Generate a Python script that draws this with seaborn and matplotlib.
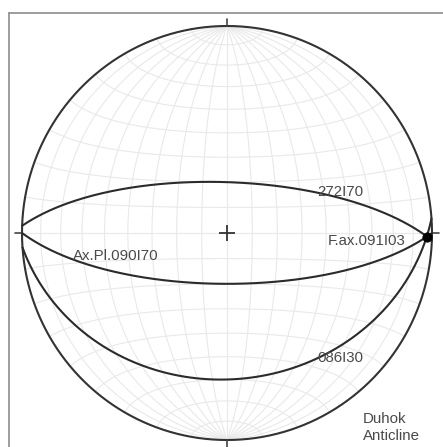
import numpy as np
import pandas as pd
import matplotlib
matplotlib.use("Agg")
import matplotlib.pyplot as plt
import seaborn as sns

# planes (right-hand rule strike / dip)
plane_strikes = [272, 90, 86]
plane_dips = [70, 70, 30]
plane_labels = ["272I70", "Ax.Pl.090I70", "086I30"]

# fold axis (trend / plunge)
axis_trends = [91]
axis_plunges = [3]
axis_labels = ["F.ax.091I03"]

site_lines = ["Duhok", "Anticline"]
net_step = 10  # grid interval, degrees


def project(trend, plunge):
    # lower hemisphere, equal area (Schmidt net)
    r = np.sqrt(2) * np.sin(np.radians(90 - plunge) / 2)
    return r * np.sin(np.radians(trend)), r * np.cos(np.radians(trend))


def vec_to_line(e, n, d):
    plunge = np.degrees(np.arcsin(np.clip(d, -1, 1)))
    trend = np.degrees(np.arctan2(e, n)) % 360
    return trend, plunge


def great_circle(strike, dip, npts=181):
    a = np.radians(np.linspace(0, 180, npts))
    s = np.radians(strike)
    dd = np.radians(strike + 90)
    dp = np.radians(dip)
    e = np.cos(a) * np.sin(s) + np.sin(a) * np.cos(dp) * np.sin(dd)
    n = np.cos(a) * np.cos(s) + np.sin(a) * np.cos(dp) * np.cos(dd)
    d = np.sin(a) * np.sin(dp)
    return project(*vec_to_line(e, n, d))


def small_circle(cone, sign=1, npts=181):
    phi = np.radians(np.linspace(0, 180, npts))
    c = np.radians(cone)
    n = sign * np.cos(c) * np.ones_like(phi)
    e = np.sin(c) * np.cos(phi)
    d = np.sin(c) * np.sin(phi)
    return project(*vec_to_line(e, n, d))


# pixel -> net units (center and radius)
CX, CY, RX, RY = 227, 233, 205, 207


def px(x, y):
    return (x - CX) / RX, (CY - y) / RY


sns.set_style("white")
plt.rcParams["font.family"] = ["Liberation Sans", "DejaVu Sans"]

fig = plt.figure(figsize=(4.43, 4.47), dpi=100)
ax = fig.add_axes([0, 0, 1, 1])
ax.axis("off")
x0, y1 = px(0, 0)
x1, y0 = px(443, 447)
ax.set_xlim(x0, x1)
ax.set_ylim(y0, y1)

# net grid
rows = []
gid = 0
for dip in range(net_step, 91, net_step):
    for strike in ([0] if dip == 90 else [0, 180]):
        gx, gy = great_circle(strike, dip)
        rows.append(pd.DataFrame({"x": gx, "y": gy, "id": gid}))
        gid += 1
for cone in range(net_step, 91, net_step):
    for sign in ([1] if cone == 90 else [1, -1]):
        gx, gy = small_circle(cone, sign)
        rows.append(pd.DataFrame({"x": gx, "y": gy, "id": gid}))
        gid += 1
grid = pd.concat(rows, ignore_index=True)
sns.lineplot(data=grid, x="x", y="y", units="id", estimator=None, sort=False,
             color="#e9e9e9", lw=0.8, legend=False, ax=ax)

# primitive circle
th = np.radians(np.linspace(0, 360, 361))
prim = pd.DataFrame({"x": np.sin(th), "y": np.cos(th)})
sns.lineplot(data=prim, x="x", y="y", sort=False, estimator=None,
             color="#333333", lw=1.5, ax=ax)

# N/E/S/W ticks and centre cross
for az in [0, 90, 180, 270]:
    a = np.radians(az)
    ax.plot([np.sin(a), 1.035 * np.sin(a)], [np.cos(a), 1.035 * np.cos(a)],
            color="#444444", lw=1.2)
ax.plot(0, 0, marker="+", ms=11, mew=1.3, color="#333333")

# planes
for s, d in zip(plane_strikes, plane_dips):
    gx, gy = great_circle(s, d)
    sns.lineplot(x=gx, y=gy, sort=False, estimator=None,
                 color="#2b2b2b", lw=1.5, ax=ax)

# fold axis
fx, fy = project(np.array(axis_trends), np.array(axis_plunges))
sns.scatterplot(x=fx, y=fy, color="black", s=45, edgecolor="black",
                zorder=5, ax=ax)

# labels
txt = dict(color="#4a4a4a", fontsize=10.8, va="baseline")
label_pos = {"272I70": (340, 196), "Ax.Pl.090I70": (116, 260),
             "086I30": (340, 362)}
for lab in plane_labels:
    ax.text(*px(*label_pos[lab]), lab, ha="center", **txt)
ax.text(*px(367, 245), axis_labels[0], ha="center", **txt)
for i, line in enumerate(site_lines):
    ax.text(*px(363, 423 + 17 * i), line, ha="left", **txt)

# frame (left and top edges only are inside the picture)
fl, ft = px(9, 13)
ax.plot([fl, fl], [ft, y0 - 0.1], color="#8c8c8c", lw=1.2)
ax.plot([fl, x1 + 0.1], [ft, ft], color="#8c8c8c", lw=1.2)

fig.savefig("out.png", dpi=100)
